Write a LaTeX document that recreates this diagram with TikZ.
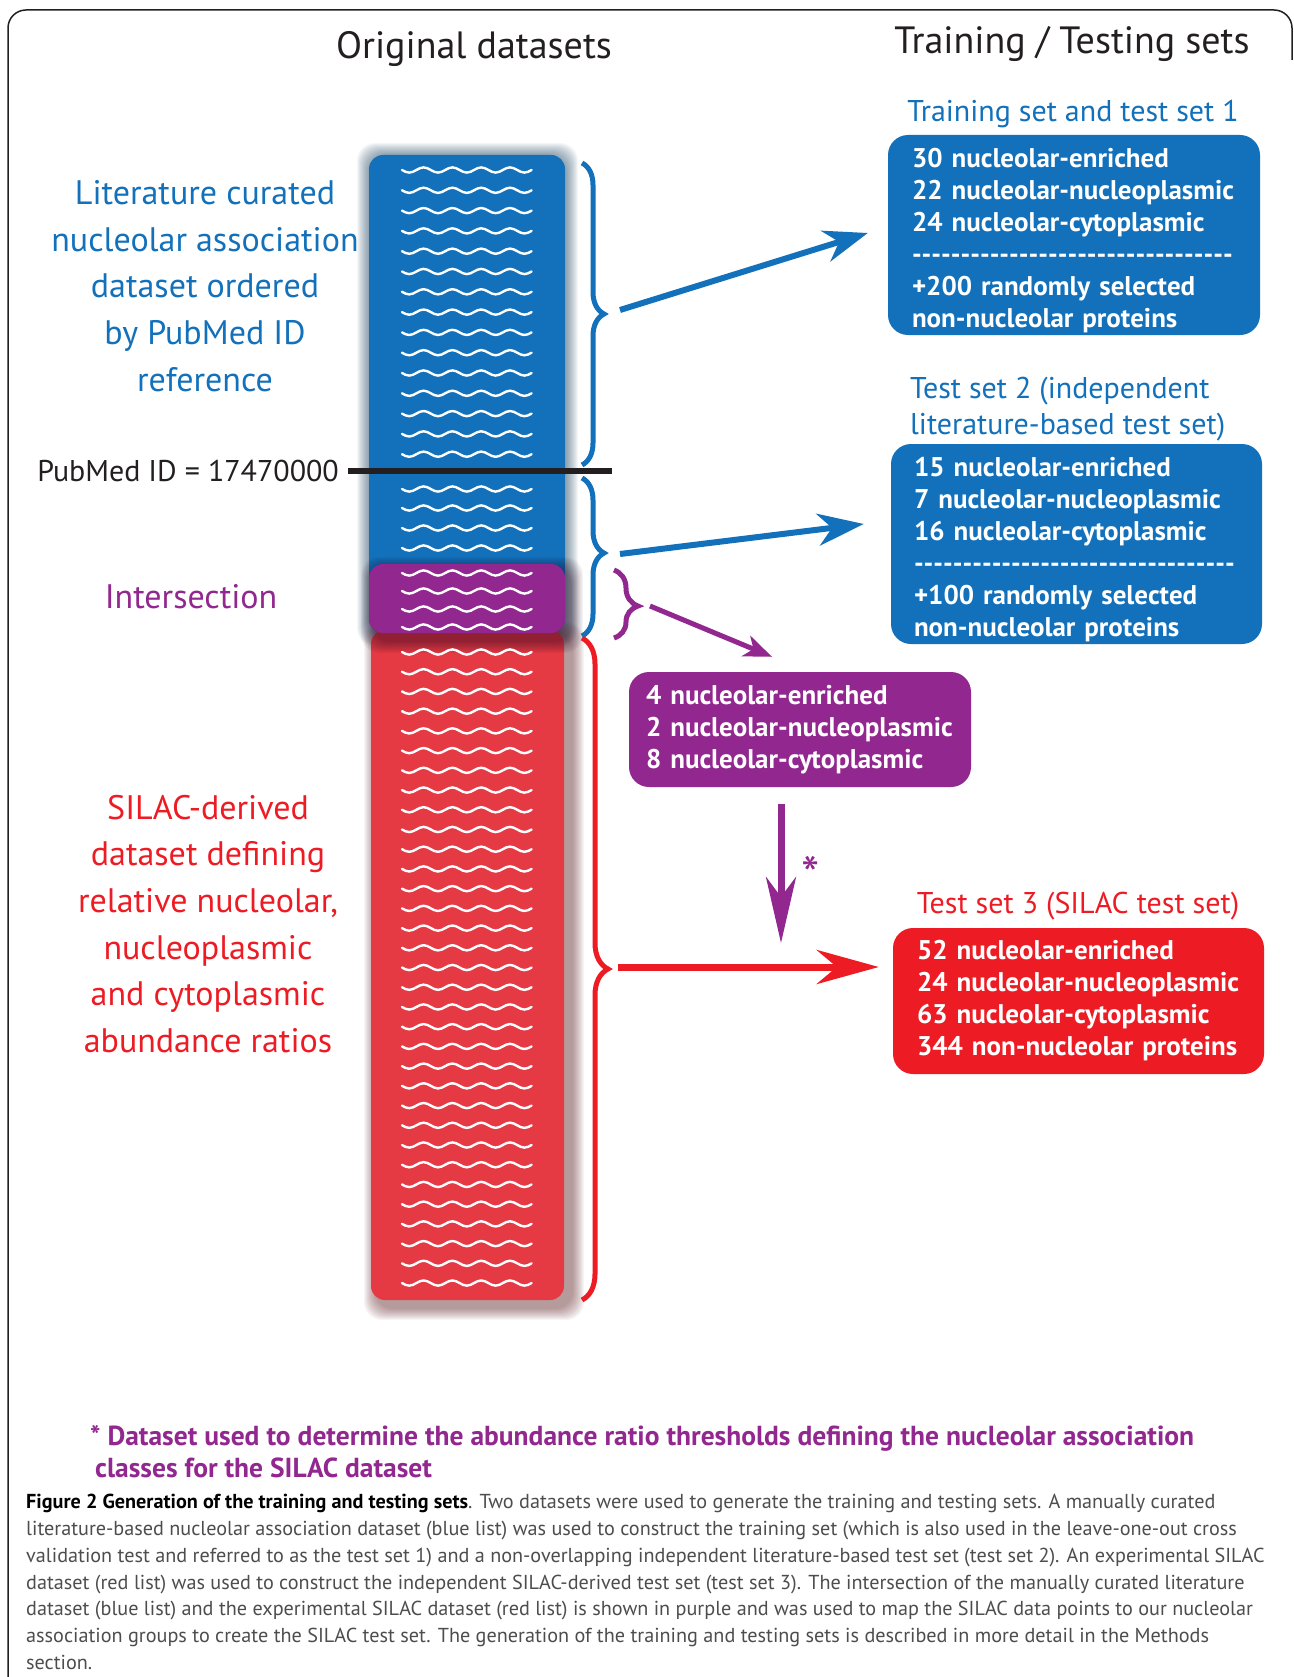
\documentclass[tikz,border=0pt]{standalone}
\usepackage{fontspec}
\setmainfont{PT Sans}
\usepackage{tikz}
\usetikzlibrary{arrows.meta, positioning, calc, decorations.pathreplacing}
\definecolor{listblue}{RGB}{18,113,186}
\definecolor{listred}{RGB}{229,57,68}
\definecolor{setred}{RGB}{237,28,36}
\definecolor{overlap}{RGB}{146,39,143}
\definecolor{ink}{RGB}{35,31,32}
\definecolor{capgray}{RGB}{77,77,77}
\tikzstyle{setbox} = [rectangle, rounded corners=20pt, align=left, text=white, inner ysep=0pt, font=\fontsize{27}{32}\selectfont\bfseries]
\tikzstyle{tallset} = [execute at begin node={\rule{0pt}{30pt}}]
\tikzstyle{bigtext} = [align=center, inner sep=0pt, font=\fontsize{34}{46.7}\selectfont]
\tikzstyle{settitle} = [inner sep=0pt, font=\fontsize{30}{36.5}\selectfont]
\tikzstyle{listbar} = [rectangle, rounded corners=14pt, inner sep=0pt]
\tikzstyle{wave} = [white, line width=2.4pt, line cap=round]
\tikzstyle{bracket} = [decorate, line width=5pt]
\tikzstyle{arrow} = [line width=6pt]
\newcommand{\wavy}[1]{%
  \draw[wave] (402,#1) \foreach \k in {1,...,4}{sin ++(7.2,2.6) cos ++(7.2,-2.6) sin ++(7.2,-2.6) cos ++(7.2,2.6)} sin ++(7.2,2.6) cos ++(7.2,-2.6);}
\newcommand{\halo}[5]{% colour, x1, y1, x2, y2
  \foreach \s in {1,...,12}
    {\fill[#1, opacity=0.045, rounded corners=18pt] (#2-\s,#3-\s) rectangle (#4+\s,#5+\s);}}
\newcommand{\dashrow}[1]{\foreach \i in {1,...,#1}{-\kern0pt}}

\begin{document}
\begin{tikzpicture}[x=1pt, y=-1pt]
    \useasboundingbox (0,0) rectangle (1293,1677);
    \fill[white] (0,0) rectangle (1293,1677);
    \draw[ink, line width=1.5pt, rounded corners=18pt] (8,1677) -- (8,10) -- (1292,10) -- (1292,60);

    % Headings
    \node[font=\fontsize{38}{40}\selectfont, text=ink] (hdorig) at (474,49) {Original datasets};
    \node[font=\fontsize{38}{40}\selectfont, text=ink] (hdsets) at (1072,44) {Training / Testing sets};

    % Original lists
    \halo{listblue!45!black}{369}{155}{566}{634}
    \node[listbar, fill=listblue, minimum width=196pt, minimum height=478pt] (bluelist) at (467,394) {};
    \halo{listred!40!black}{376}{634}{572}{1308}
    \node[listbar, fill=listred, minimum width=193pt, minimum height=670pt] (redlist) at (467.5,965) {};
    \halo{overlap!25!black}{373}{569}{571}{641}
    \node[listbar, fill=overlap, minimum width=196pt, minimum height=69pt] (interlist) at (467,598.5) {};

    \foreach \y in {170,190.3,...,456} {\wavy{\y}}
    \foreach \y in {489,508,528,548} {\wavy{\y}}
    \foreach \y in {573,591,609,627} {\wavy{\y}}
    \foreach \y in {652,671.72,...,1285} {\wavy{\y}}

    % Left labels
    \node[bigtext, text=listblue] (litlabel) at (205,286) {Literature curated\\nucleolar association\\dataset ordered\\by PubMed ID\\reference};
    \node[bigtext, text=overlap] (interlabel) at (191,597) {Intersection};
    \node[bigtext, text=setred] (silaclabel) at (208,924) {SILAC-derived\\dataset defining\\relative nucleolar,\\nucleoplasmic\\and cytoplasmic\\abundance ratios};

    % PubMed cut
    \node[font=\fontsize{30}{36}\selectfont, text=ink, anchor=east, inner sep=0pt] (pubmed) at (339,471) {PubMed ID = 17470000};
    \coordinate (cutend) at (612,471);
    \draw[ink, line width=6pt] ([xshift=9pt]pubmed.east) -- (cutend);

    % Braces
    \draw[bracket, listblue, decoration={brace, amplitude=22pt}] (582,163) -- (582,465);
    \draw[bracket, listblue, decoration={brace, amplitude=22pt, aspect=0.475}] (582,478) -- (582,636);
    \draw[bracket, overlap, decoration={brace, amplitude=24pt, aspect=0.53}] (614,570) -- (614,638);
    \draw[bracket, setred, decoration={brace, amplitude=26pt}] (582,638) -- (582,1300);

    % Resulting sets
    \node[settitle, text=listblue] (traintitle) at (1073,114) {Training set and test set 1};
    \node[setbox, tallset, fill=listblue, text width=324pt, inner xsep=24pt, minimum height=200pt] (train) at (1074,235)
        {30 nucleolar-enriched\\22 nucleolar-nucleoplasmic\\24 nucleolar-cytoplasmic\\\dashrow{33}\\+200 randomly selected\\non-nucleolar proteins};

    \node[settitle, text=listblue, align=left, anchor=west] (test2title) at (910,409) {Test set 2 (independent\\literature-based test set)};
    \node[setbox, tallset, fill=listblue, text width=325pt, inner xsep=23pt, minimum height=200pt] (test2) at (1076.5,544)
        {15 nucleolar-enriched\\7 nucleolar-nucleoplasmic\\16 nucleolar-cytoplasmic\\\dashrow{33}\\+100 randomly selected\\non-nucleolar proteins};

    \node[setbox, fill=overlap, text width=308pt, inner xsep=17pt, minimum height=115pt] (common) at (800,729.5)
        {4 nucleolar-enriched\\2 nucleolar-nucleoplasmic\\8 nucleolar-cytoplasmic};

    \node[settitle, text=setred] (test3title) at (1078,906) {Test set 3 (SILAC test set)};
    \node[setbox, fill=setred, text width=323pt, inner xsep=24pt, minimum height=146pt] (test3) at (1078.5,1001)
        {52 nucleolar-enriched\\24 nucleolar-nucleoplasmic\\63 nucleolar-cytoplasmic\\344 non-nucleolar proteins};

    % Arrows
    \coordinate (tipA) at (620,310);
    \coordinate (headA) at ($(train.west)+(-20,-2)$);
    \coordinate (tipB) at (620,554);
    \coordinate (headB) at ($(test2.west)+(-27,-20)$);
    \coordinate (tipC) at (650,606);
    \coordinate (headC) at ($(common.north)+(-28,-15)$);
    \coordinate (startD) at (781,804);
    \coordinate (headD) at (781,943);
    \coordinate (tipE) at (618,967);
    \coordinate (headE) at ($(test3.west)+(-14,-34)$);
    \draw[arrow, listblue, -{Stealth[length=44pt, width=32pt, inset=14pt]}] (tipA) -- (headA);
    \draw[arrow, listblue, -{Stealth[length=46pt, width=32pt, inset=14pt]}] (tipB) -- (headB);
    \draw[arrow, overlap, line width=5pt, -{Stealth[length=28pt, width=22pt, inset=8pt]}] (tipC) -- (headC);
    \draw[arrow, overlap, line width=7pt, -{Stealth[length=66pt, width=30pt, inset=20pt]}] (startD) -- (headD);
    \draw[arrow, setred, line width=7pt, -{Stealth[length=62pt, width=34pt, inset=20pt]}] (tipE) -- (headE);
    \node[text=overlap, font=\fontsize{52}{52}\selectfont] (star) at (811,875) {*};

    % Footnote and caption
    \node[anchor=west, align=left, inner sep=0pt, text=overlap, font=\fontsize{27.5}{32}\selectfont\bfseries] (footnote) at (90,1452)
        {* Dataset used to determine the abundance ratio thresholds defining the nucleolar association\\\hspace{5pt}classes for the SILAC dataset};
    \node[anchor=north west, align=left, inner sep=0pt, text=capgray, font=\fontsize{20.2}{26.8}\selectfont] (caption) at (26,1494)
        {{\bfseries\color{black}Figure 2 Generation of the training and testing sets}. Two datasets were used to generate the training and testing sets. A manually curated\\
        literature-based nucleolar association dataset (blue list) was used to construct the training set (which is also used in the leave-one-out cross\\
        validation test and referred to as the test set 1) and a non-overlapping independent literature-based test set (test set 2). An experimental SILAC\\
        dataset (red list) was used to construct the independent SILAC-derived test set (test set 3). The intersection of the manually curated literature\\
        dataset (blue list) and the experimental SILAC dataset (red list) is shown in purple and was used to map the SILAC data points to our nucleolar\\
        association groups to create the SILAC test set. The generation of the training and testing sets is described in more detail in the Methods\\
        section.};
\end{tikzpicture}
\end{document}
